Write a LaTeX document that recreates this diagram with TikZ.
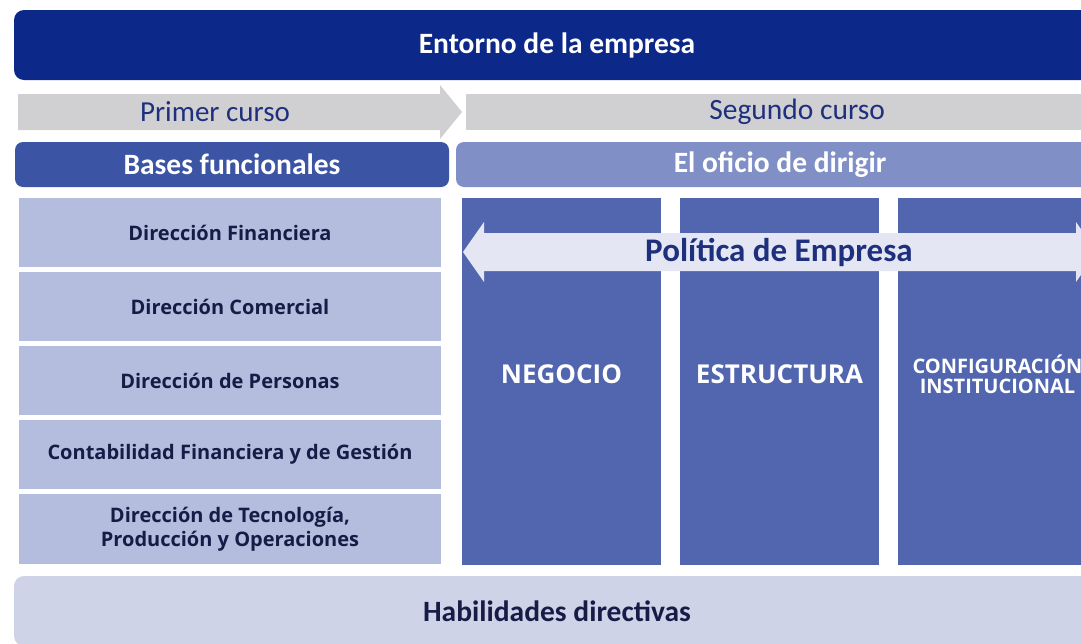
\documentclass[tikz,border=0pt]{standalone}
\usepackage{fontspec}
\setmainfont{Carlito}
\newfontfamily\osans{Open Sans}
\definecolor{navy}{RGB}{12,40,137}
\definecolor{basesc}{RGB}{59,84,164}
\definecolor{oficioc}{RGB}{128,144,198}
\definecolor{greyc}{RGB}{208,208,210}
\definecolor{leftc}{RGB}{180,189,222}
\definecolor{colc}{RGB}{82,102,176}
\definecolor{polc}{RGB}{228,231,243}
\definecolor{habc}{RGB}{206,211,232}
\definecolor{darktxt}{RGB}{22,28,70}
\definecolor{curtxt}{RGB}{30,48,125}
\tikzset{
  band/.style={anchor=north west, inner sep=0pt, outer sep=0pt, rounded corners=10pt},
  titlefont/.style={font=\bfseries\fontsize{29.5}{29.5}\selectfont},
  leftbox/.style={anchor=north west, inner sep=0pt, outer sep=0pt, fill=leftc,
    minimum width=422pt, minimum height=69pt, text=darktxt, align=center,
    font=\osans\bfseries\fontsize{20}{24}\selectfont},
  colbox/.style={anchor=north west, inner sep=0pt, outer sep=0pt, fill=colc,
    minimum width=199pt, minimum height=367pt},
  coltext/.style={text=white, align=center, inner sep=0pt,
    font=\osans\bfseries\fontsize{26}{26}\selectfont},
}
\begin{document}
\begin{tikzpicture}[x=1pt,y=-1pt]
\useasboundingbox (0,0) rectangle (1081,643);
\clip (0,0) rectangle (1081,643);
\fill[white] (0,0) rectangle (1081,643);
% top banner
\node[band, fill=navy, minimum width=1086pt, minimum height=70pt, text=white,
  titlefont] (entorno) at (14,10) {Entorno de la empresa};
% primer curso arrow
\fill[greyc] (18,94) -- (440,94) -- (440,85) -- (462,112) -- (440,139) -- (440,130) -- (18,130) -- cycle;
\node[text=curtxt, font=\fontsize{29}{29}\selectfont] (primer) at (215,112) {Primer curso};
% segundo curso
\node[anchor=north west, inner sep=0pt, fill=greyc, minimum width=662pt, minimum height=36pt,
  text=curtxt, font=\fontsize{29.5}{29.5}\selectfont] (segundo) at (466,94) {Segundo curso};
% bases / oficio
\node[band, rounded corners=8pt, fill=basesc, minimum width=434pt, minimum height=45pt, text=white,
  titlefont] (bases) at (15,142) {Bases funcionales};
\node[band, rounded corners=8pt, fill=oficioc, minimum width=648pt, minimum height=45pt, text=white,
  titlefont] (oficio) at (456,142) {El oficio de dirigir};
% left boxes
\node[leftbox] (fin) at (19,198) {Dirección Financiera};
\node[leftbox] (com) at (19,272) {Dirección Comercial};
\node[leftbox] (per) at (19,346) {Dirección de Personas};
\node[leftbox] (cont) at (19,420) {Contabilidad Financiera y de Gestión};
\node[leftbox, minimum height=70pt] (tec) at (19,494) {Dirección de Tecnología,\\Producción y Operaciones};
% columns
\node[colbox] (neg) at (462,198) {};
\node[colbox] (est) at (680,198) {};
\node[colbox] (conf) at (898,198) {};
\node[coltext] (negt) at ([yshift=7pt]neg.center) {NEGOCIO};
\node[coltext] (estt) at ([yshift=7pt]est.center) {ESTRUCTURA};
\node[coltext, font=\osans\bfseries\fontsize{20}{20}\selectfont] (conft) at ([yshift=7pt]conf.center) {CONFIGURACIÓN\\INSTITUCIONAL};
% politica double arrow
\fill[polc] (463,252) -- (484,222) -- (484,233) -- (1076,233) -- (1076,222) -- (1097,252)
  -- (1076,282) -- (1076,271) -- (484,271) -- (484,282) -- cycle;
\node[text=curtxt, font=\bfseries\fontsize{33}{33}\selectfont] (pol) at (779,252) {Política de Empresa};
% habilidades
\node[band, fill=habc, minimum width=1086pt, minimum height=70pt, text=darktxt,
  titlefont] (hab) at (14,576) {Habilidades directivas};
\end{tikzpicture}
\end{document}
